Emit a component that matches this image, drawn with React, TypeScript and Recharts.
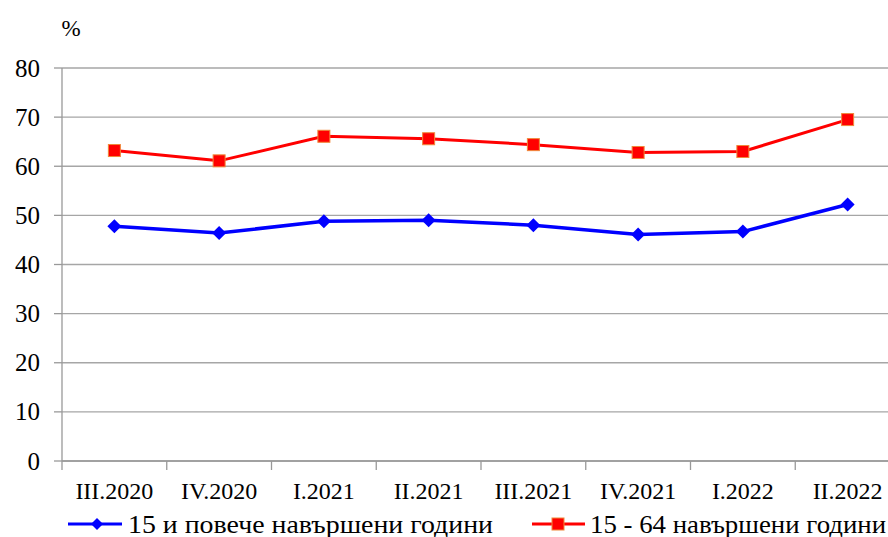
import React from 'react';
import { LineChart, Line, XAxis, YAxis, CartesianGrid, Legend } from 'recharts';

const quarters = ['III.2020', 'IV.2020', 'I.2021', 'II.2021', 'III.2021', 'IV.2021', 'I.2022', 'II.2022'];
const age15plus = [47.8, 46.4, 48.8, 49.0, 48.0, 46.1, 46.7, 52.2];
const age15to64 = [63.2, 61.1, 66.1, 65.6, 64.4, 62.8, 63.0, 69.5];
const yTicks = [0, 10, 20, 30, 40, 50, 60, 70, 80];

const seriesNames = {
  a: '15 и повече навършени години',
  b: '15 - 64 навършени години',
};

const data = quarters.map((q, i) => ({ q, a: age15plus[i], b: age15to64[i] }));

const FONT = '"Liberation Serif", "Times New Roman", serif';
const CHART_W = 900;
const CHART_H = 537;
const Y_AXIS_W = 62;
const STEP = (CHART_W - Y_AXIS_W) / quarters.length;

const Diamond = (props: any) => {
  const { cx, cy, r = 7, fill = '#0000ff' } = props;
  if (cx == null || cy == null) return null;
  return (
    <polygon
      points={`${cx},${cy - r} ${cx + r},${cy} ${cx},${cy + r} ${cx - r},${cy}`}
      fill={fill}
    />
  );
};

const Square = (props: any) => {
  const { cx, cy, s = 6 } = props;
  if (cx == null || cy == null) return null;
  return (
    <rect x={cx - s} y={cy - s} width={s * 2} height={s * 2} fill="#ff0000" stroke="#f0883a" strokeWidth={1} />
  );
};

const XTick = (props: any) => {
  const { x, y, payload } = props;
  const axisY = y - 8;
  return (
    <g>
      <line x1={x - STEP / 2} y1={axisY} x2={x - STEP / 2} y2={axisY + 9} stroke="#999" strokeWidth={1.3} />
      <text x={x} y={y + 22} textAnchor="middle" dominantBaseline="central" fontFamily={FONT} fontSize={24} fill="#000">
        {payload.value}
      </text>
    </g>
  );
};

const YTick = (props: any) => {
  const { x, y, payload } = props;
  return (
    <text x={x} y={y} textAnchor="end" dominantBaseline="central" fontFamily={FONT} fontSize={25} fill="#000">
      {payload.value}
    </text>
  );
};

const PercentLabel = (props: any) => {
  const { viewBox } = props;
  return (
    <text x={viewBox.x + viewBox.width + 9} y={viewBox.y - 40} textAnchor="middle" dominantBaseline="central" fontFamily={FONT} fontSize={23} fill="#000">
      %
    </text>
  );
};

const LegendContent = () => (
  <svg width={CHART_W} height={36} style={{ display: 'block' }}>
    <line x1={68} y1={23} x2={122} y2={23} stroke="#0000ff" strokeWidth={3} />
    <Diamond cx={97} cy={23} r={6} />
    <text x={128} y={23} dominantBaseline="central" fontFamily={FONT} fontSize={25} fill="#000" textLength={365} lengthAdjust="spacingAndGlyphs">
      {seriesNames.a}
    </text>
    <line x1={532} y1={23} x2={585} y2={23} stroke="#ff0000" strokeWidth={3} />
    <Square cx={558} cy={23} s={6} />
    <text x={590} y={23} dominantBaseline="central" fontFamily={FONT} fontSize={25} fill="#000" textLength={296} lengthAdjust="spacingAndGlyphs">
      {seriesNames.b}
    </text>
  </svg>
);

export default function App() {
  return (
    <div style={{ position: 'absolute', left: 0, top: 0, width: 888, height: 537, overflow: 'hidden', background: '#fff' }}>
      <LineChart width={CHART_W} height={CHART_H} data={data} margin={{ top: 68, right: 0, left: 0, bottom: 0 }}>
        <CartesianGrid vertical={false} stroke="#a6a6a6" strokeWidth={1.3} />
        <XAxis
          dataKey="q"
          height={40}
          padding={{ left: STEP / 2, right: STEP / 2 }}
          axisLine={{ stroke: '#999', strokeWidth: 1.3 }}
          tickLine={false}
          tickSize={8}
          tickMargin={0}
          tick={<XTick />}
          interval={0}
        />
        <YAxis
          width={Y_AXIS_W}
          domain={[0, 80]}
          ticks={yTicks}
          axisLine={{ stroke: '#999', strokeWidth: 1.3 }}
          tickLine={{ stroke: '#999', strokeWidth: 1.3 }}
          tickSize={8}
          tickMargin={14}
          tick={<YTick />}
          label={{ value: '%', content: <PercentLabel /> }}
        />
        <Legend verticalAlign="bottom" height={36} wrapperStyle={{ left: 0, width: CHART_W }} content={<LegendContent />} />
        <Line
          dataKey="b"
          name={seriesNames.b}
          stroke="#ff0000"
          strokeWidth={3}
          dot={(p: any) => <Square key={p.index} cx={p.cx} cy={p.cy} s={6} />}
          activeDot={false}
          isAnimationActive={false}
        />
        <Line
          dataKey="a"
          name={seriesNames.a}
          stroke="#0000ff"
          strokeWidth={3.5}
          dot={(p: any) => <Diamond key={p.index} cx={p.cx} cy={p.cy} r={7} />}
          activeDot={false}
          isAnimationActive={false}
        />
      </LineChart>
    </div>
  );
}
